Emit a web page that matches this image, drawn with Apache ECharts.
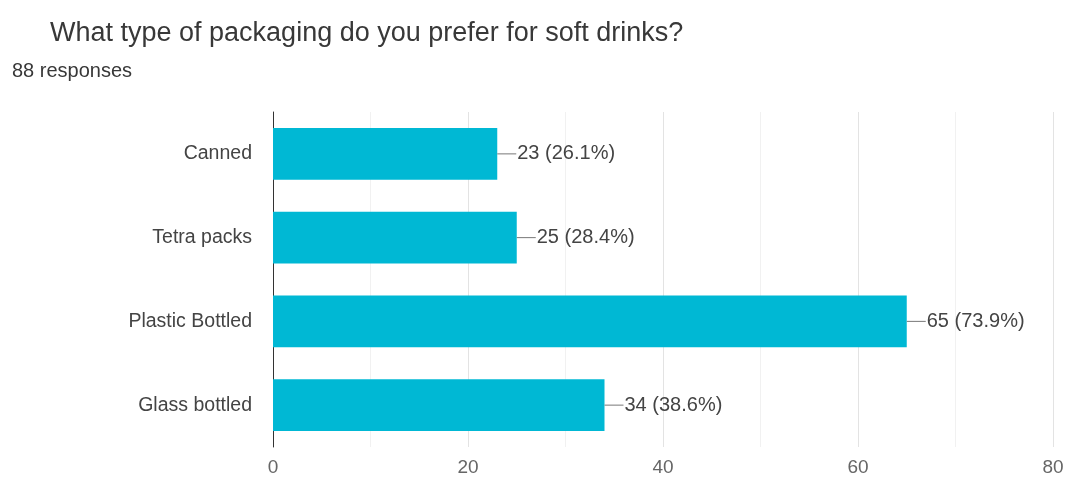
<!DOCTYPE html>
<html>
<head>
<meta charset="utf-8">
<script src="https://cdn.jsdelivr.net/npm/echarts@6/dist/echarts.min.js"></script>
<style>
  html, body { margin: 0; padding: 0; background: #fff; }
  #chart { width: 1068px; height: 479px; }
</style>
</head>
<body>
<div id="chart"></div>
<script>
// Survey answers, top to bottom
const categories = ['Canned', 'Tetra packs', 'Plastic Bottled', 'Glass bottled'];
const counts = [23, 25, 65, 34];
const percents = ['26.1', '28.4', '73.9', '38.6'];
const totalResponses = 88;
const xTicks = [0, 20, 40, 60, 80];

const chart = echarts.init(document.getElementById('chart'));
const font = '"Liberation Sans", Arial, sans-serif';

chart.setOption({
  animation: false,
  textStyle: { fontFamily: font },
  title: [
    {
      text: 'What type of packaging do you prefer for soft drinks?',
      left: 45, top: 15,
      textStyle: { fontFamily: font, fontSize: 27, fontWeight: 'normal', color: '#383838' }
    },
    {
      text: totalResponses + ' responses',
      left: 7, top: 56,
      textStyle: { fontFamily: font, fontSize: 20, fontWeight: 'normal', color: '#383838' }
    }
  ],
  grid: { left: 273, right: 15, top: 112, bottom: 32, containLabel: false },
  xAxis: {
    type: 'value',
    min: xTicks[0],
    max: xTicks[xTicks.length - 1],
    interval: 20,
    axisLine: { show: false },
    axisTick: { show: false },
    axisLabel: { color: '#666', fontSize: 19, margin: 11, fontFamily: font },
    splitLine: { show: true, lineStyle: { color: '#e3e3e3', width: 1 } },
    minorTick: { show: false, splitNumber: 2 },
    minorSplitLine: { show: true, lineStyle: { color: '#f1f1f1', width: 1 } }
  },
  yAxis: {
    type: 'category',
    data: categories,
    inverse: true,
    axisLine: { show: true, lineStyle: { color: '#333', width: 1 } },
    axisTick: { show: false },
    axisLabel: { color: '#444', fontSize: 19.5, margin: 21, fontFamily: font },
    splitLine: { show: false }
  },
  series: [{
    type: 'bar',
    data: counts,
    barWidth: '62%',
    itemStyle: { color: '#00b8d4' },
    label: {
      show: true,
      position: 'right',
      distance: 0,
      formatter: (p) => '{line|}{t|' + p.value + ' (' + percents[p.dataIndex] + '%)}',
      rich: {
        line: { width: 19, height: 1, backgroundColor: '#777' },
        t: { color: '#444', fontSize: 20, fontFamily: font, padding: [0, 0, 0, 1] }
      }
    }
  }]
});
</script>
</body>
</html>
